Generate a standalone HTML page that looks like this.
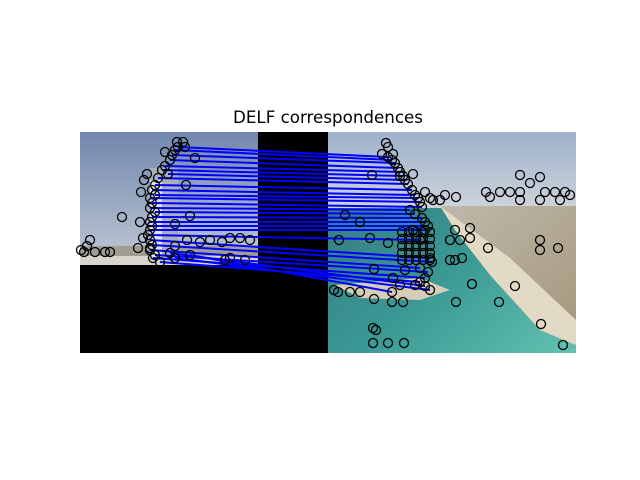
<!DOCTYPE html>
<html><head><meta charset="utf-8"><style>
body{margin:0;background:#fff;width:640px;height:480px;overflow:hidden}
svg{display:block}
</style></head><body>
<svg id="chart" width="640" height="480" xmlns="http://www.w3.org/2000/svg">
<defs>
<linearGradient id="skyL" x1="0" y1="0" x2="0" y2="1"><stop offset="0" stop-color="#7187ad"/><stop offset="1" stop-color="#c0c9d4"/></linearGradient>
<linearGradient id="skyR" x1="0" y1="0" x2="0" y2="1"><stop offset="0" stop-color="#9fb1cb"/><stop offset="1" stop-color="#cdd3da"/></linearGradient>
<linearGradient id="sea" x1="0" y1="0" x2="1" y2="1"><stop offset="0" stop-color="#356f7c"/><stop offset="0.55" stop-color="#3a9894"/><stop offset="1" stop-color="#62c2b0"/></linearGradient>
<linearGradient id="city" x1="0" y1="0" x2="1" y2="1"><stop offset="0" stop-color="#bdb9ab"/><stop offset="1" stop-color="#a89a80"/></linearGradient>
</defs>
<text x="328" y="123" text-anchor="middle" font-family="DejaVu Sans, Liberation Sans, sans-serif" font-size="16.7">DELF correspondences</text>
<g>
<rect x="80" y="132" width="248" height="221" fill="#000"/>
<rect x="80" y="132" width="178" height="133" fill="url(#skyL)"/>
<rect x="80" y="246" width="178" height="10" fill="#a09e94"/>
<rect x="80" y="256" width="178" height="9" fill="#d8d6cc"/>
<rect x="150" y="168" width="28" height="92" fill="#a9b0ba"/>
<rect x="150" y="180" width="12" height="78" fill="#e0e3e8"/>
</g>
<g>
<rect x="328" y="132" width="248" height="221" fill="url(#sea)"/>
<rect x="328" y="132" width="248" height="76" fill="url(#skyR)"/>
<polygon points="440,206 576,206 576,320 510,258" fill="url(#city)"/>
<polygon points="440,206 510,258 576,320 576,345 540,330 490,275 455,230" fill="#e3dac6"/>
<polygon points="335,285 420,278 450,290 420,300 360,298" fill="#d6cdb8"/>
</g>
<g id="lines"></g>
<g id="pts"></g>
</svg>
<script>
const matchLeftX=[178,175,172,170,165,162,168,158,155,152,155,150,152,150,155,152,150,152,150,148,150,152,150,155,153,160,170,175,190];
const matchLeftY=[147,150,155,160,166,170,174,178,185,190,195,198,203,208,212,217,222,226,230,235,240,245,250,255,258,262,253,258,255];
const matchRightX=[388,392,395,398,400,403,405,408,412,415,418,420,422,410,415,422,425,428,425,420,430,432,420,428,425,420,425,430,392];
const matchRightY=[157,160,163,168,172,176,180,184,190,195,198,202,207,210,214,218,222,226,230,240,258,262,268,272,278,282,286,290,292];
const extraX=[177,183,165,147,141,144,122,140,143,90,87,84,95,110,138,150,175,187,200,210,222,230,240,250,230,225,245,175,190,195,185,186,105,81,
386,388,382,393,413,372,400,425,430,433,440,445,456,486,490,500,510,520,520,530,540,545,555,565,570,540,560,520,470,470,455,450,460,413,370,388,360,345,339,374,393,405,400,455,462,450,488,540,540,558,472,415,456,499,515,334,338,350,360,374,392,403,373,376,373,388,404,541,563,
402,409,416,423,430,402,409,416,423,430,402,409,416,423,430,402,409,416,423,430,402,409,416,423,430];
const extraY=[142,142,152,174,192,180,217,222,238,240,246,252,252,252,248,248,246,240,242,240,242,238,238,240,258,260,260,224,216,158,147,185,252,250,
143,147,154,154,174,175,176,192,198,200,200,195,197,192,197,192,192,192,175,183,177,192,192,192,195,200,200,200,228,238,230,240,240,230,238,243,222,215,240,269,278,270,285,260,258,260,248,240,250,248,284,285,302,302,286,290,292,292,292,299,302,302,328,330,343,343,343,324,345,
232,232,232,232,232,239,239,239,239,239,246,246,246,246,246,253,253,253,253,253,260,260,260,260,260];
const NS='http://www.w3.org/2000/svg';
const gl=document.getElementById('lines'),gp=document.getElementById('pts');
function circ(x,y){const c=document.createElementNS(NS,'circle');c.setAttribute('cx',x);c.setAttribute('cy',y);c.setAttribute('r',4.5);c.setAttribute('fill','none');c.setAttribute('stroke','#000');c.setAttribute('stroke-width',1.3);


gp.appendChild(c);}
for(let i=0;i<extraX.length;i++)circ(extraX[i],extraY[i]);
for(let i=0;i<matchLeftX.length;i++){circ(matchLeftX[i],matchLeftY[i]);circ(matchRightX[i],matchRightY[i]);
const l=document.createElementNS(NS,'line');l.setAttribute('x1',matchLeftX[i]);l.setAttribute('y1',matchLeftY[i]);l.setAttribute('x2',matchRightX[i]);l.setAttribute('y2',matchRightY[i]);l.setAttribute('stroke','#0000ff');l.setAttribute('stroke-width',2);


gl.appendChild(l);}
</script>
</body></html>
